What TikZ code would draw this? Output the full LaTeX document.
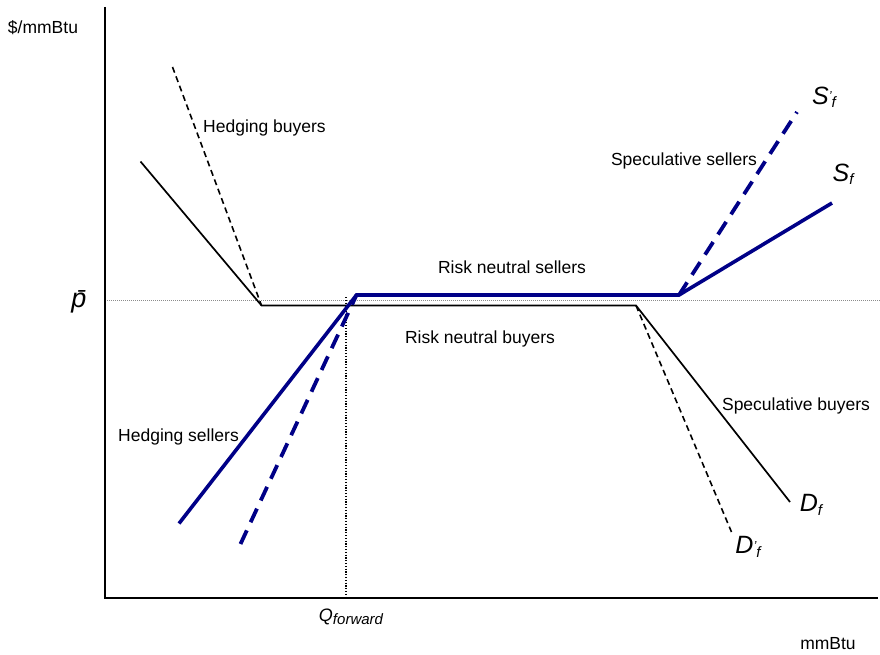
\documentclass[tikz,border=0pt]{standalone}
\usepackage{fontspec}
\setmainfont{Liberation Sans}
\definecolor{navyline}{RGB}{0,0,135}
\definecolor{refgray}{RGB}{140,140,140}
\newcommand{\symsub}[3]{{\fontsize{#3}{#3}\selectfont\itshape #1}\raisebox{-0.35ex}{\fontsize{15}{15}\selectfont\itshape #2}}
\newcommand{\symprime}[1]{{\fontsize{25}{25}\selectfont\itshape #1\raisebox{0.25ex}{\fontsize{13}{13}\selectfont ’}}\raisebox{-0.35ex}{\fontsize{15}{15}\selectfont\itshape f}}
\tikzset{
  axisline/.style={line width=1.8pt, black},
  demand/.style={line width=1.7pt, black, line join=miter},
  demanddash/.style={line width=1.6pt, black, dash pattern=on 6pt off 4pt},
  supply/.style={line width=3.6pt, navyline, line join=miter},
  supplydash/.style={line width=3.8pt, navyline, dash pattern=on 15pt off 9pt},
  pbarline/.style={line width=0.9pt, refgray, dash pattern=on 1pt off 1pt},
  qline/.style={line width=1.1pt, black, dash pattern=on 1.2pt off 1.6pt},
  txt/.style={inner sep=0pt, font=\fontsize{17.5}{21}\selectfont}
}
\begin{document}
\begin{tikzpicture}[x=1pt,y=-1pt]
\useasboundingbox (0,0) rectangle (880,655);
% axes
\coordinate (ytop) at (105,7);
\coordinate (origin) at (105,598);
\coordinate (xend) at (878,598);
\coordinate (pl) at (105,300);
\coordinate (pr) at (880,300);
\coordinate (qtop) at (346,297);
\coordinate (qbot) at (346,598);
\draw[pbarline] (pl) -- (pr);
\draw[qline] (qtop) -- (qbot);
\draw[axisline] (ytop) -- (origin) -- (xend);
% demand (black)
\coordinate (d1) at (140.5,161.5);
\coordinate (d2) at (261.5,305.5);
\coordinate (d3) at (636,305.5);
\coordinate (d4) at (790,502);
\coordinate (dd1) at (172.5,67);
\coordinate (dd2) at (731.5,532);
\draw[demand] (d1) -- (d2) -- (d3) -- (d4);
\draw[demanddash] (dd1) -- (d2);
\draw[demanddash] (d3) -- (dd2);
% supply (blue)
\coordinate (s1) at (179,523.5);
\coordinate (s2) at (356.5,295);
\coordinate (s3) at (679,295);
\coordinate (s4) at (832,203);
\coordinate (sd1) at (240.5,544);
\coordinate (sd2) at (797,112);
\draw[supply] (s1) -- (s2) -- (s3) -- (s4);
\draw[supplydash] (sd1) -- (s2);
\draw[supplydash] (s3) -- (sd2);
% labels
\node[txt] (yl) at (43,28) {\$/mmBtu};
\node[txt] (xl) at (828,644) {mmBtu};
\node[txt] (pbar) at (79,302) {\fontsize{27}{27}\selectfont\itshape\={p}};
\node[txt] (qf) at (351,617) {\symsub{Q}{forward}{18}};
\node[txt, anchor=west] (hb) at (203,128) {Hedging buyers};
\node[txt] (ssl) at (684,161) {Speculative sellers};
\node[txt] (rns) at (512,267) {Risk neutral sellers};
\node[txt] (rnb) at (480,339) {Risk neutral buyers};
\node[txt] (sb) at (796,406) {Speculative buyers};
\node[txt, anchor=east] (hs) at (239,437) {Hedging sellers};
\node[txt] (sfp) at (824,97) {\symprime{S}};
\node[txt] (sf) at (843,174) {\symsub{S}{f}{25}};
\node[txt] (df) at (811,505) {\symsub{D}{f}{25}};
\node[txt] (dfp) at (748,547) {\symprime{D}};
\end{tikzpicture}
\end{document}
